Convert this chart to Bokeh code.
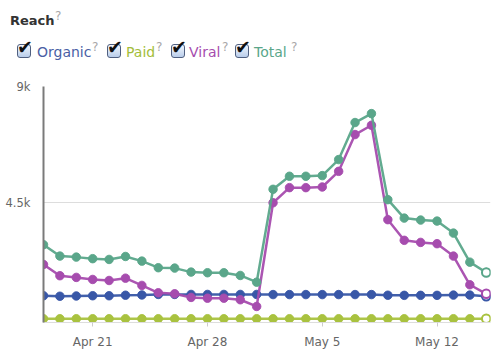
import pandas as pd
from bokeh.plotting import figure
from bokeh.layouts import column
from bokeh.models import Range1d, FixedTicker, ColumnDataSource, Div
from bokeh.embed import file_html
from bokeh.resources import INLINE

start_date = "2013-04-18"
n_days = 28
organic = [900, 880, 890, 900, 900, 920, 930, 950, 950, 950, 950, 950, 950, 950,
           945, 945, 945, 945, 945, 945, 945, 920, 915, 915, 915, 925, 925, 880]
paid = [10] * 28
viral = [2110, 1675, 1610, 1530, 1490, 1580, 1300, 1015, 975, 835, 805, 805, 745, 485,
         4500, 5085, 5085, 5110, 5715, 7140, 7500, 3845, 3045, 2965, 2915, 2435, 1325, 975]
total = [2875, 2435, 2395, 2335, 2305, 2420, 2240, 1985, 1970, 1815, 1790, 1790, 1685, 1425,
         5020, 5525, 5525, 5550, 6170, 7605, 7950, 4620, 3905, 3830, 3790, 3325, 2200, 1800]
tick_dates = ["2013-04-21", "2013-04-28", "2013-05-05", "2013-05-12"]
tick_labels = ["Apr 21", "Apr 28", "May 5", "May 12"]
y_ticks = [4500, 9000]
y_tick_labels = ["4.5k", "9k"]
title_text = "Reach"
series_names = ["Organic", "Paid", "Viral", "Total"]
series_colors = ["#3857a7", "#a9c23f", "#a64cae", "#5aa68a"]
legend_text_colors = ["#4a5fa5", "#a3bd3a", "#a64cae", "#5aa68a"]

dates = pd.date_range(start_date, periods=n_days, freq="D")
ms = [d.value // 10**6 for d in dates]
day_ms = 86400000

FONT = "'DejaVu Sans', sans-serif"

# ---------- header (title + checkbox legend) ----------
box_left = [17, 107, 171, 235]
text_left = [37, 126, 189, 254]
q_left = [92, 156, 222, 291]
parts = [f'<div style="position:relative;width:503px;height:78px;font-family:{FONT};">']
parts.append(f'<div style="position:absolute;left:10px;top:14px;font-size:13px;line-height:13px;'
             f'font-weight:bold;color:#333;">{title_text}</div>')
parts.append('<div style="position:absolute;left:55px;top:10px;font-size:12px;line-height:12px;'
             'color:#a8a8a8;">?</div>')
for i, name in enumerate(series_names):
    parts.append(f'<div style="position:absolute;left:{box_left[i]}px;top:44px;width:14px;height:14px;'
                 'border:1px solid #4f5f80;border-radius:3px;'
                 'background:linear-gradient(#f4f8fe,#b9cdea);"></div>')
    parts.append(f'<div style="position:absolute;left:{box_left[i]}px;top:38px;font-size:19px;'
                 'line-height:19px;font-weight:bold;color:#111;">✔</div>')
    parts.append(f'<div style="position:absolute;left:{text_left[i]}px;top:45px;font-size:14px;'
                 f'line-height:14px;color:{legend_text_colors[i]};">{name}</div>')
    parts.append(f'<div style="position:absolute;left:{q_left[i]}px;top:41px;font-size:12px;'
                 'line-height:12px;color:#a8a8a8;">?</div>')
parts.append('</div>')
header = Div(text="".join(parts), width=503, height=78, margin=(0, 0, 0, 0))

# ---------- chart ----------
p = figure(width=503, height=282, output_backend="svg", toolbar_location=None,
           x_axis_type="datetime", margin=(0, 0, 0, 0),
           min_border_left=43, min_border_right=13, min_border_top=8, min_border_bottom=38)
p.x_range = Range1d(ms[0], ms[0] + 27.26 * day_ms)
p.y_range = Range1d(-136, 9000)
p.outline_line_color = None
p.background_fill_color = "white"
p.border_fill_color = "white"

tick_ms = [pd.Timestamp(t).value // 10**6 for t in tick_dates]
p.xaxis.ticker = FixedTicker(ticks=tick_ms)
p.xaxis.major_label_overrides = {t: l for t, l in zip(tick_ms, tick_labels)}
p.xaxis.axis_line_color = "#dddddd"
p.xaxis.major_tick_line_color = "#cccccc"
p.xaxis.major_tick_in = 0
p.xaxis.major_tick_out = 4
p.xaxis.minor_tick_line_color = None
p.xaxis.major_label_text_color = "#666666"
p.xaxis.major_label_text_font = "DejaVu Sans"
p.xaxis.major_label_text_font_size = "12px"
p.xaxis.major_label_standoff = 8

p.yaxis.ticker = FixedTicker(ticks=y_ticks)
p.yaxis.major_label_overrides = {t: l for t, l in zip(y_ticks, y_tick_labels)}
p.yaxis.axis_line_color = "#7a7a7a"
p.yaxis.axis_line_width = 2
p.yaxis.major_tick_line_color = None
p.yaxis.minor_tick_line_color = None
p.yaxis.major_label_text_color = "#666666"
p.yaxis.major_label_text_font = "DejaVu Sans"
p.yaxis.major_label_text_font_size = "11.5px"
p.yaxis.major_label_standoff = 7

p.xgrid.grid_line_color = None
p.ygrid.ticker = FixedTicker(ticks=[4500])
p.ygrid.grid_line_color = "#dddddd"
p.ygrid.grid_line_width = 1

data = {"Organic": organic, "Paid": paid, "Viral": viral, "Total": total}
for name in ["Paid", "Organic", "Viral", "Total"]:
    col = series_colors[series_names.index(name)]
    src = ColumnDataSource(dict(x=ms, y=data[name]))
    p.line("x", "y", source=src, line_color=col, line_width=2.5, line_alpha=0.95)
    p.scatter("x", "y", source=src, size=8.5, fill_color=col, line_color=col, line_alpha=0.9)
    last = ColumnDataSource(dict(x=ms[-1:], y=data[name][-1:]))
    p.scatter("x", "y", source=last, size=8.5, fill_color="white", line_color=col, line_width=2)

layout = column(header, p, spacing=0, margin=(0, 0, 0, 0))
open("out.html", "w").write(file_html(layout, INLINE))
